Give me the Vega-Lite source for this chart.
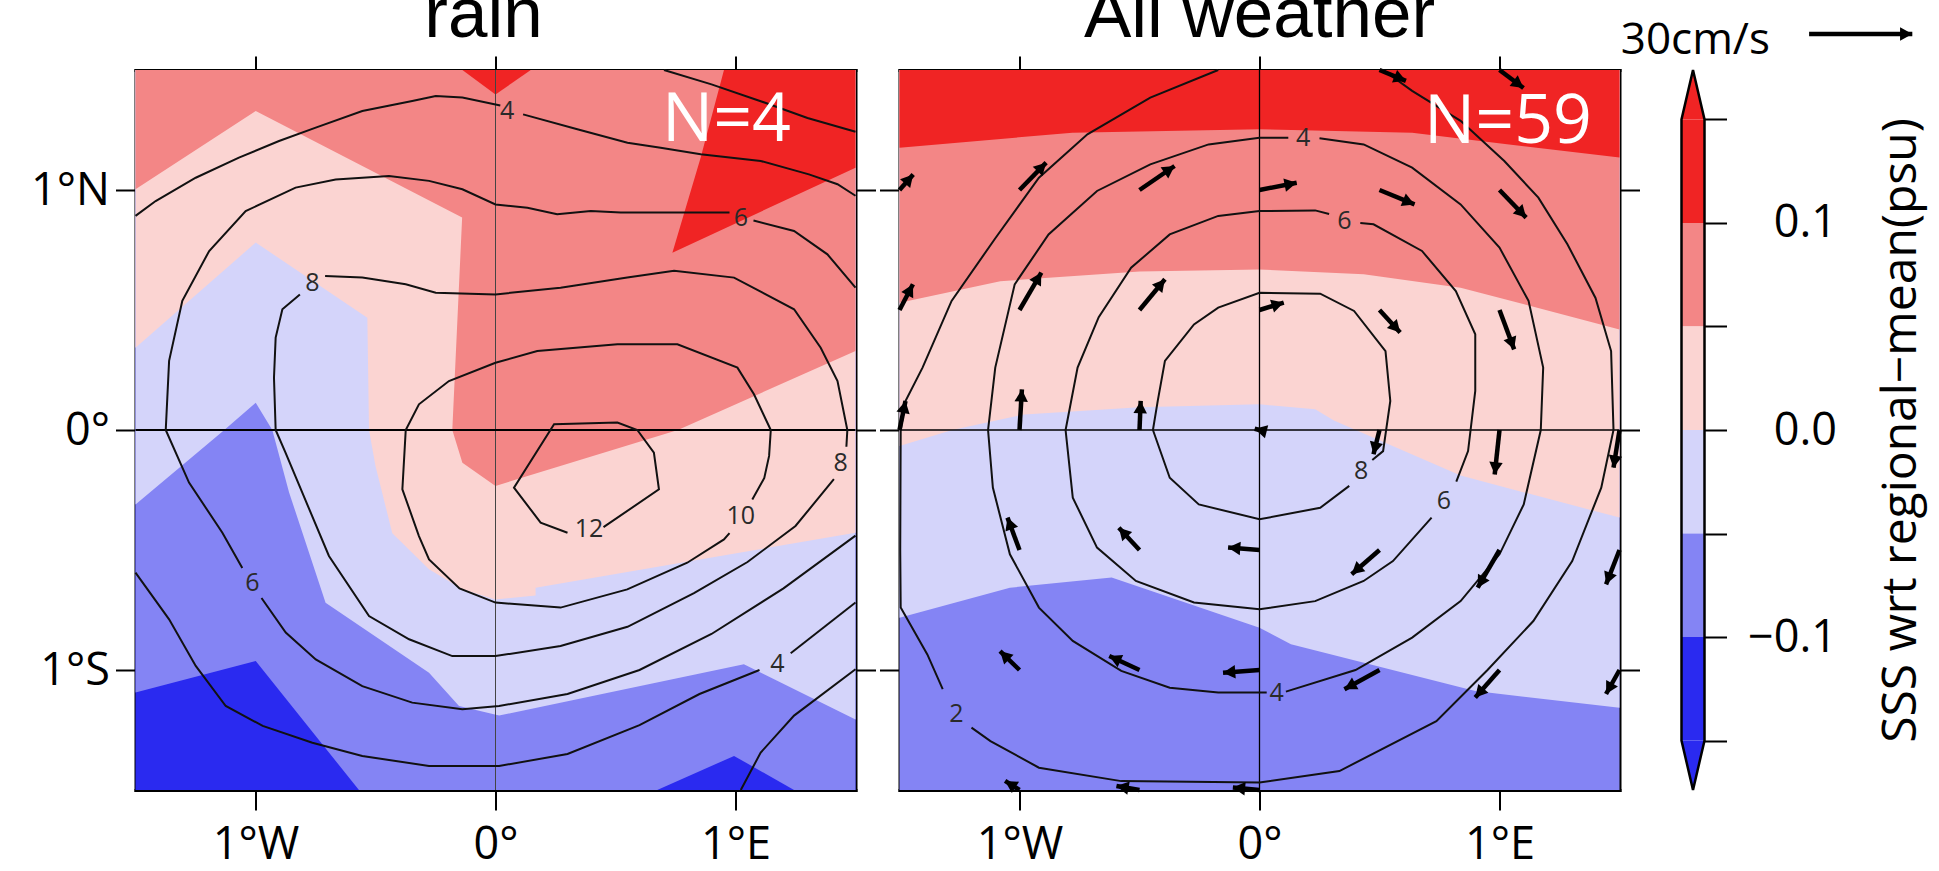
{
"$schema":"https://vega.github.io/schema/vega-lite/v6.json",
"usermeta":{"embedOptions":{"actions":false}},
"padding":{"left":30.5,"top":-21,"right":10,"bottom":12},
"bounds":"flush",
"spacing":44,
"datasets":{
"fl":[
{"k":0,"g":"a0","i":0,"x":-1.5,"y":-1.5},{"k":0,"g":"a0","i":1,"x":1.5,"y":-1.5},{"k":0,"g":"a0","i":2,"x":1.5,"y":1.5},{"k":0,"g":"a0","i":3,"x":-1.5,"y":1.5},
{"k":1,"g":"a1","i":0,"x":-1.5,"y":1.5},{"k":1,"g":"a1","i":1,"x":1.5,"y":1.5},{"k":1,"g":"a1","i":2,"x":1.5,"y":-1.5},{"k":1,"g":"a1","i":3,"x":1.244,"y":-1.5},{"k":1,"g":"a1","i":4,"x":0.994,"y":-1.358},{"k":1,"g":"a1","i":5,"x":0.674,"y":-1.5},{"k":1,"g":"a1","i":6,"x":-0.569,"y":-1.5},{"k":1,"g":"a1","i":7,"x":-0.999,"y":-0.963},{"k":1,"g":"a1","i":8,"x":-1.5,"y":-1.094},
{"k":2,"g":"a2","i":0,"x":-1.5,"y":1.5},{"k":2,"g":"a2","i":1,"x":1.5,"y":1.5},{"k":2,"g":"a2","i":2,"x":1.5,"y":-1.206},{"k":2,"g":"a2","i":3,"x":1.035,"y":-0.976},{"k":2,"g":"a2","i":4,"x":0.015,"y":-1.19},{"k":2,"g":"a2","i":5,"x":-0.152,"y":-1.15},{"k":2,"g":"a2","i":6,"x":-0.277,"y":-1.011},{"k":2,"g":"a2","i":7,"x":-0.708,"y":-0.72},{"k":2,"g":"a2","i":8,"x":-0.86,"y":-0.26},{"k":2,"g":"a2","i":9,"x":-0.93,"y":0.0},{"k":2,"g":"a2","i":10,"x":-0.999,"y":0.114},{"k":2,"g":"a2","i":11,"x":-1.13,"y":0.0},{"k":2,"g":"a2","i":12,"x":-1.5,"y":-0.31},
{"k":3,"g":"a3","i":0,"x":-1.5,"y":1.5},{"k":3,"g":"a3","i":1,"x":1.5,"y":1.5},{"k":3,"g":"a3","i":2,"x":1.5,"y":-0.428},{"k":3,"g":"a3","i":3,"x":0.167,"y":-0.657},{"k":3,"g":"a3","i":4,"x":0.167,"y":-0.69},{"k":3,"g":"a3","i":5,"x":0.0,"y":-0.706},{"k":3,"g":"a3","i":6,"x":-0.138,"y":-0.664},{"k":3,"g":"a3","i":7,"x":-0.277,"y":-0.58},{"k":3,"g":"a3","i":8,"x":-0.43,"y":-0.43},{"k":3,"g":"a3","i":9,"x":-0.5,"y":-0.15},{"k":3,"g":"a3","i":10,"x":-0.527,"y":0.0},{"k":3,"g":"a3","i":11,"x":-0.534,"y":0.468},{"k":3,"g":"a3","i":12,"x":-0.999,"y":0.781},{"k":3,"g":"a3","i":13,"x":-1.5,"y":0.343},
{"k":4,"g":"a4","i":0,"x":-1.5,"y":1.5},{"k":4,"g":"a4","i":1,"x":1.5,"y":1.5},{"k":4,"g":"a4","i":2,"x":1.5,"y":0.329},{"k":4,"g":"a4","i":3,"x":0.76,"y":0.0},{"k":4,"g":"a4","i":4,"x":0.0,"y":-0.233},{"k":4,"g":"a4","i":5,"x":-0.138,"y":-0.136},{"k":4,"g":"a4","i":6,"x":-0.18,"y":0.0},{"k":4,"g":"a4","i":7,"x":-0.139,"y":0.885},{"k":4,"g":"a4","i":8,"x":-0.999,"y":1.329},{"k":4,"g":"a4","i":9,"x":-1.5,"y":1.003},
{"k":5,"g":"a5","i":0,"x":-0.138,"y":1.5},{"k":5,"g":"a5","i":1,"x":0.147,"y":1.5},{"k":5,"g":"a5","i":2,"x":0.0,"y":1.398},
{"k":5,"g":"a6","i":0,"x":0.952,"y":1.5},{"k":5,"g":"a6","i":1,"x":1.5,"y":1.5},{"k":5,"g":"a6","i":2,"x":1.5,"y":1.093},{"k":5,"g":"a6","i":3,"x":0.737,"y":0.739},{"k":5,"g":"a6","i":4,"x":0.855,"y":1.135}
],
"fr":[
{"k":1,"g":"b1","i":0,"x":-1.5,"y":-1.5},{"k":1,"g":"b1","i":1,"x":1.5,"y":-1.5},{"k":1,"g":"b1","i":2,"x":1.5,"y":1.5},{"k":1,"g":"b1","i":3,"x":-1.5,"y":1.5},
{"k":2,"g":"b2","i":0,"x":-1.5,"y":-0.782},{"k":2,"g":"b2","i":1,"x":-1.04,"y":-0.657},{"k":2,"g":"b2","i":2,"x":-0.616,"y":-0.615},{"k":2,"g":"b2","i":3,"x":0.0,"y":-0.824},{"k":2,"g":"b2","i":4,"x":0.131,"y":-0.893},{"k":2,"g":"b2","i":5,"x":0.899,"y":-1.088},{"k":2,"g":"b2","i":6,"x":1.5,"y":-1.157},{"k":2,"g":"b2","i":7,"x":1.5,"y":1.5},{"k":2,"g":"b2","i":8,"x":-1.5,"y":1.5},
{"k":3,"g":"b3","i":0,"x":-1.5,"y":-0.067},{"k":3,"g":"b3","i":1,"x":-1.28,"y":0.0},{"k":3,"g":"b3","i":2,"x":-0.98,"y":0.065},{"k":3,"g":"b3","i":3,"x":-0.5,"y":0.095},{"k":3,"g":"b3","i":4,"x":0.0,"y":0.107},{"k":3,"g":"b3","i":5,"x":0.232,"y":0.086},{"k":3,"g":"b3","i":6,"x":0.31,"y":0.04},{"k":3,"g":"b3","i":7,"x":0.838,"y":-0.19},{"k":3,"g":"b3","i":8,"x":1.5,"y":-0.365},{"k":3,"g":"b3","i":9,"x":1.5,"y":1.5},{"k":3,"g":"b3","i":10,"x":-1.5,"y":1.5},
{"k":4,"g":"b4","i":0,"x":-1.5,"y":0.53},{"k":4,"g":"b4","i":1,"x":-1.08,"y":0.62},{"k":4,"g":"b4","i":2,"x":-0.5,"y":0.66},{"k":4,"g":"b4","i":3,"x":0.0,"y":0.669},{"k":4,"g":"b4","i":4,"x":0.434,"y":0.649},{"k":4,"g":"b4","i":5,"x":0.838,"y":0.593},{"k":4,"g":"b4","i":6,"x":1.5,"y":0.419},{"k":4,"g":"b4","i":7,"x":1.5,"y":1.5},{"k":4,"g":"b4","i":8,"x":-1.5,"y":1.5},
{"k":5,"g":"b5","i":0,"x":-1.5,"y":1.176},{"k":5,"g":"b5","i":1,"x":-0.78,"y":1.239},{"k":5,"g":"b5","i":2,"x":0.0,"y":1.253},{"k":5,"g":"b5","i":3,"x":0.636,"y":1.239},{"k":5,"g":"b5","i":4,"x":1.04,"y":1.19},{"k":5,"g":"b5","i":5,"x":1.5,"y":1.135},{"k":5,"g":"b5","i":6,"x":1.5,"y":1.5},{"k":5,"g":"b5","i":7,"x":-1.5,"y":1.5}
],
"cl":[
{"g":"c2a","i":0,"x":0.702,"y":1.5},{"g":"c2a","i":1,"x":0.9,"y":1.44},{"g":"c2a","i":2,"x":1.105,"y":1.37},{"g":"c2a","i":3,"x":1.3,"y":1.3},{"g":"c2a","i":4,"x":1.5,"y":1.243},
{"g":"c4a","i":0,"x":-1.5,"y":0.892},{"g":"c4a","i":1,"x":-1.416,"y":0.954},{"g":"c4a","i":2,"x":-1.249,"y":1.051},{"g":"c4a","i":3,"x":-1.069,"y":1.135},{"g":"c4a","i":4,"x":-0.902,"y":1.204},{"g":"c4a","i":5,"x":-0.749,"y":1.26},{"g":"c4a","i":6,"x":-0.555,"y":1.329},{"g":"c4a","i":7,"x":-0.347,"y":1.371},{"g":"c4a","i":8,"x":-0.249,"y":1.392},{"g":"c4a","i":9,"x":-0.138,"y":1.385},{"g":"c4a","i":10,"x":0.02,"y":1.352},
{"g":"c4b","i":0,"x":0.115,"y":1.315},{"g":"c4b","i":1,"x":0.341,"y":1.253},{"g":"c4b","i":2,"x":0.55,"y":1.197},{"g":"c4b","i":3,"x":0.688,"y":1.176},{"g":"c4b","i":4,"x":0.855,"y":1.149},{"g":"c4b","i":5,"x":1.105,"y":1.121},{"g":"c4b","i":6,"x":1.306,"y":1.065},{"g":"c4b","i":7,"x":1.425,"y":1.024},{"g":"c4b","i":8,"x":1.5,"y":0.976},
{"g":"c6a","i":0,"x":0.975,"y":0.906},{"g":"c6a","i":1,"x":0.522,"y":0.906},{"g":"c6a","i":2,"x":0.397,"y":0.912},{"g":"c6a","i":3,"x":0.257,"y":0.899},{"g":"c6a","i":4,"x":0.133,"y":0.926},{"g":"c6a","i":5,"x":0.0,"y":0.94},{"g":"c6a","i":6,"x":-0.138,"y":1.003},{"g":"c6a","i":7,"x":-0.277,"y":1.038},{"g":"c6a","i":8,"x":-0.444,"y":1.058},{"g":"c6a","i":9,"x":-0.666,"y":1.044},{"g":"c6a","i":10,"x":-0.833,"y":1.01},{"g":"c6a","i":11,"x":-1.041,"y":0.912},{"g":"c6a","i":12,"x":-1.193,"y":0.746},{"g":"c6a","i":13,"x":-1.305,"y":0.538},{"g":"c6a","i":14,"x":-1.36,"y":0.288},{"g":"c6a","i":15,"x":-1.374,"y":0.0},{"g":"c6a","i":16,"x":-1.277,"y":-0.219},{"g":"c6a","i":17,"x":-1.138,"y":-0.428},{"g":"c6a","i":18,"x":-1.055,"y":-0.575},
{"g":"c6b","i":0,"x":-0.975,"y":-0.7},{"g":"c6b","i":1,"x":-0.874,"y":-0.844},{"g":"c6b","i":2,"x":-0.749,"y":-0.956},{"g":"c6b","i":3,"x":-0.555,"y":-1.067},{"g":"c6b","i":4,"x":-0.347,"y":-1.136},{"g":"c6b","i":5,"x":-0.138,"y":-1.164},{"g":"c6b","i":6,"x":0.015,"y":-1.15},{"g":"c6b","i":7,"x":0.3,"y":-1.1},{"g":"c6b","i":8,"x":0.6,"y":-1.0},{"g":"c6b","i":9,"x":0.9,"y":-0.85},{"g":"c6b","i":10,"x":1.2,"y":-0.66},{"g":"c6b","i":11,"x":1.5,"y":-0.44},
{"g":"c6c","i":0,"x":1.075,"y":0.873},{"g":"c6c","i":1,"x":1.244,"y":0.829},{"g":"c6c","i":2,"x":1.383,"y":0.732},{"g":"c6c","i":3,"x":1.5,"y":0.593},
{"g":"c8a","i":0,"x":-0.71,"y":0.642},{"g":"c8a","i":1,"x":-0.555,"y":0.635},{"g":"c8a","i":2,"x":-0.374,"y":0.607},{"g":"c8a","i":3,"x":-0.249,"y":0.572},{"g":"c8a","i":4,"x":0.0,"y":0.565},{"g":"c8a","i":5,"x":0.271,"y":0.593},{"g":"c8a","i":6,"x":0.549,"y":0.635},{"g":"c8a","i":7,"x":0.744,"y":0.663},{"g":"c8a","i":8,"x":0.994,"y":0.635},{"g":"c8a","i":9,"x":1.244,"y":0.503},{"g":"c8a","i":10,"x":1.355,"y":0.343},{"g":"c8a","i":11,"x":1.425,"y":0.204},{"g":"c8a","i":12,"x":1.466,"y":0.0},{"g":"c8a","i":13,"x":1.462,"y":-0.07},
{"g":"c8b","i":0,"x":1.41,"y":-0.205},{"g":"c8b","i":1,"x":1.25,"y":-0.4},{"g":"c8b","i":2,"x":1.05,"y":-0.55},{"g":"c8b","i":3,"x":0.827,"y":-0.68},{"g":"c8b","i":4,"x":0.55,"y":-0.82},{"g":"c8b","i":5,"x":0.271,"y":-0.9},{"g":"c8b","i":6,"x":0.0,"y":-0.942},{"g":"c8b","i":7,"x":-0.18,"y":-0.942},{"g":"c8b","i":8,"x":-0.36,"y":-0.872},{"g":"c8b","i":9,"x":-0.527,"y":-0.775},{"g":"c8b","i":10,"x":-0.694,"y":-0.525},{"g":"c8b","i":11,"x":-0.805,"y":-0.261},{"g":"c8b","i":12,"x":-0.875,"y":-0.094},{"g":"c8b","i":13,"x":-0.916,"y":0.0},{"g":"c8b","i":14,"x":-0.923,"y":0.218},{"g":"c8b","i":15,"x":-0.916,"y":0.385},{"g":"c8b","i":16,"x":-0.888,"y":0.503},{"g":"c8b","i":17,"x":-0.815,"y":0.565},
{"g":"c10","i":0,"x":1.07,"y":-0.29},{"g":"c10","i":1,"x":1.12,"y":-0.2},{"g":"c10","i":2,"x":1.14,"y":-0.108},{"g":"c10","i":3,"x":1.147,"y":0.0},{"g":"c10","i":4,"x":1.077,"y":0.149},{"g":"c10","i":5,"x":1.008,"y":0.26},{"g":"c10","i":6,"x":0.758,"y":0.357},{"g":"c10","i":7,"x":0.508,"y":0.357},{"g":"c10","i":8,"x":0.174,"y":0.329},{"g":"c10","i":9,"x":0.0,"y":0.28},{"g":"c10","i":10,"x":-0.194,"y":0.204},{"g":"c10","i":11,"x":-0.319,"y":0.107},{"g":"c10","i":12,"x":-0.374,"y":0.0},{"g":"c10","i":13,"x":-0.388,"y":-0.247},{"g":"c10","i":14,"x":-0.319,"y":-0.442},{"g":"c10","i":15,"x":-0.277,"y":-0.539},{"g":"c10","i":16,"x":-0.15,"y":-0.66},{"g":"c10","i":17,"x":0.0,"y":-0.719},{"g":"c10","i":18,"x":0.271,"y":-0.74},{"g":"c10","i":19,"x":0.549,"y":-0.664},{"g":"c10","i":20,"x":0.799,"y":-0.553},{"g":"c10","i":21,"x":0.952,"y":-0.456},{"g":"c10","i":22,"x":0.975,"y":-0.43},
{"g":"c12","i":0,"x":0.45,"y":-0.405},{"g":"c12","i":1,"x":0.681,"y":-0.247},{"g":"c12","i":2,"x":0.66,"y":-0.094},{"g":"c12","i":3,"x":0.591,"y":0.0},{"g":"c12","i":4,"x":0.508,"y":0.031},{"g":"c12","i":5,"x":0.244,"y":0.024},{"g":"c12","i":6,"x":0.077,"y":-0.24},{"g":"c12","i":7,"x":0.188,"y":-0.386},{"g":"c12","i":8,"x":0.3,"y":-0.428},
{"g":"c4c","i":0,"x":-1.5,"y":-0.594},{"g":"c4c","i":1,"x":-1.36,"y":-0.789},{"g":"c4c","i":2,"x":-1.249,"y":-0.983},{"g":"c4c","i":3,"x":-1.124,"y":-1.15},{"g":"c4c","i":4,"x":-0.97,"y":-1.233},{"g":"c4c","i":5,"x":-0.763,"y":-1.303},{"g":"c4c","i":6,"x":-0.555,"y":-1.358},{"g":"c4c","i":7,"x":-0.277,"y":-1.4},{"g":"c4c","i":8,"x":0.015,"y":-1.4},{"g":"c4c","i":9,"x":0.3,"y":-1.35},{"g":"c4c","i":10,"x":0.6,"y":-1.23},{"g":"c4c","i":11,"x":0.85,"y":-1.1},{"g":"c4c","i":12,"x":1.1,"y":-1.0},
{"g":"c4d","i":0,"x":1.23,"y":-0.93},{"g":"c4d","i":1,"x":1.5,"y":-0.719},
{"g":"c2b","i":0,"x":1.5,"y":-0.997},{"g":"c2b","i":1,"x":1.244,"y":-1.19},{"g":"c2b","i":2,"x":1.105,"y":-1.344},{"g":"c2b","i":3,"x":1.022,"y":-1.5}
],
"cr":[
{"g":"r8","i":0,"x":0.374,"y":-0.233},{"g":"r8","i":1,"x":0.253,"y":-0.324},{"g":"r8","i":2,"x":0.0,"y":-0.372},{"g":"r8","i":3,"x":-0.253,"y":-0.31},{"g":"r8","i":4,"x":-0.374,"y":-0.199},{"g":"r8","i":5,"x":-0.444,"y":0.0},{"g":"r8","i":6,"x":-0.424,"y":0.121},{"g":"r8","i":7,"x":-0.394,"y":0.288},{"g":"r8","i":8,"x":-0.273,"y":0.44},{"g":"r8","i":9,"x":-0.172,"y":0.51},{"g":"r8","i":10,"x":0.0,"y":0.572},{"g":"r8","i":11,"x":0.253,"y":0.568},{"g":"r8","i":12,"x":0.394,"y":0.496},{"g":"r8","i":13,"x":0.525,"y":0.329},{"g":"r8","i":14,"x":0.545,"y":0.121},{"g":"r8","i":15,"x":0.515,"y":-0.088},{"g":"r8","i":16,"x":0.47,"y":-0.125},
{"g":"r6a","i":0,"x":0.42,"y":0.862},{"g":"r6a","i":1,"x":0.475,"y":0.857},{"g":"r6a","i":2,"x":0.677,"y":0.746},{"g":"r6a","i":3,"x":0.818,"y":0.579},{"g":"r6a","i":4,"x":0.899,"y":0.399},{"g":"r6a","i":5,"x":0.899,"y":0.163},{"g":"r6a","i":6,"x":0.869,"y":-0.088},{"g":"r6a","i":7,"x":0.82,"y":-0.215},
{"g":"r6b","i":0,"x":0.717,"y":-0.365},{"g":"r6b","i":1,"x":0.556,"y":-0.546},{"g":"r6b","i":2,"x":0.434,"y":-0.629},{"g":"r6b","i":3,"x":0.232,"y":-0.713},{"g":"r6b","i":4,"x":0.0,"y":-0.747},{"g":"r6b","i":5,"x":-0.273,"y":-0.719},{"g":"r6b","i":6,"x":-0.515,"y":-0.629},{"g":"r6b","i":7,"x":-0.677,"y":-0.49},{"g":"r6b","i":8,"x":-0.778,"y":-0.282},{"g":"r6b","i":9,"x":-0.808,"y":0.0},{"g":"r6b","i":10,"x":-0.758,"y":0.26},{"g":"r6b","i":11,"x":-0.67,"y":0.47},{"g":"r6b","i":12,"x":-0.535,"y":0.676},{"g":"r6b","i":13,"x":-0.374,"y":0.815},{"g":"r6b","i":14,"x":-0.172,"y":0.892},{"g":"r6b","i":15,"x":0.0,"y":0.912},{"g":"r6b","i":16,"x":0.232,"y":0.915},{"g":"r6b","i":17,"x":0.29,"y":0.9},
{"g":"r4a","i":0,"x":0.25,"y":1.216},{"g":"r4a","i":1,"x":0.434,"y":1.19},{"g":"r4a","i":2,"x":0.636,"y":1.093},{"g":"r4a","i":3,"x":0.838,"y":0.94},{"g":"r4a","i":4,"x":1.0,"y":0.76},{"g":"r4a","i":5,"x":1.121,"y":0.538},{"g":"r4a","i":6,"x":1.182,"y":0.26},{"g":"r4a","i":7,"x":1.172,"y":0.0},{"g":"r4a","i":8,"x":1.101,"y":-0.31},{"g":"r4a","i":9,"x":1.0,"y":-0.518},{"g":"r4a","i":10,"x":0.838,"y":-0.713},{"g":"r4a","i":11,"x":0.636,"y":-0.865},{"g":"r4a","i":12,"x":0.4,"y":-1.0},{"g":"r4a","i":13,"x":0.11,"y":-1.09},
{"g":"r4b","i":0,"x":0.03,"y":-1.094},{"g":"r4b","i":1,"x":-0.172,"y":-1.094},{"g":"r4b","i":2,"x":-0.374,"y":-1.074},{"g":"r4b","i":3,"x":-0.576,"y":-1.004},{"g":"r4b","i":4,"x":-0.778,"y":-0.879},{"g":"r4b","i":5,"x":-0.919,"y":-0.74},{"g":"r4b","i":6,"x":-1.04,"y":-0.518},{"g":"r4b","i":7,"x":-1.111,"y":-0.24},{"g":"r4b","i":8,"x":-1.131,"y":0.0},{"g":"r4b","i":9,"x":-1.101,"y":0.26},{"g":"r4b","i":10,"x":-1.02,"y":0.607},{"g":"r4b","i":11,"x":-0.879,"y":0.815},{"g":"r4b","i":12,"x":-0.677,"y":0.996},{"g":"r4b","i":13,"x":-0.455,"y":1.107},{"g":"r4b","i":14,"x":-0.212,"y":1.19},{"g":"r4b","i":15,"x":0.0,"y":1.218},{"g":"r4b","i":16,"x":0.12,"y":1.218},
{"g":"r2a","i":0,"x":-1.2,"y":-1.24},{"g":"r2a","i":1,"x":-1.121,"y":-1.296},{"g":"r2a","i":2,"x":-0.919,"y":-1.407},{"g":"r2a","i":3,"x":-0.576,"y":-1.463},{"g":"r2a","i":4,"x":0.0,"y":-1.469},{"g":"r2a","i":5,"x":0.333,"y":-1.421},{"g":"r2a","i":6,"x":0.737,"y":-1.213},{"g":"r2a","i":7,"x":0.95,"y":-1.0},{"g":"r2a","i":8,"x":1.141,"y":-0.796},{"g":"r2a","i":9,"x":1.303,"y":-0.546},{"g":"r2a","i":10,"x":1.424,"y":-0.24},{"g":"r2a","i":11,"x":1.475,"y":0.0},{"g":"r2a","i":12,"x":1.465,"y":0.329},{"g":"r2a","i":13,"x":1.4,"y":0.55},{"g":"r2a","i":14,"x":1.283,"y":0.774},{"g":"r2a","i":15,"x":1.162,"y":0.968},{"g":"r2a","i":16,"x":1.02,"y":1.121},{"g":"r2a","i":17,"x":0.838,"y":1.288},{"g":"r2a","i":18,"x":0.636,"y":1.413},{"g":"r2a","i":19,"x":0.515,"y":1.5},
{"g":"r2b","i":0,"x":-0.172,"y":1.5},{"g":"r2b","i":1,"x":-0.455,"y":1.385},{"g":"r2b","i":2,"x":-0.717,"y":1.232},{"g":"r2b","i":3,"x":-0.919,"y":1.051},{"g":"r2b","i":4,"x":-1.1,"y":0.8},{"g":"r2b","i":5,"x":-1.283,"y":0.538},{"g":"r2b","i":6,"x":-1.404,"y":0.26},{"g":"r2b","i":7,"x":-1.475,"y":0.121},{"g":"r2b","i":8,"x":-1.495,"y":0.0},{"g":"r2b","i":9,"x":-1.497,"y":-0.5},{"g":"r2b","i":10,"x":-1.495,"y":-0.74},{"g":"r2b","i":11,"x":-1.384,"y":-0.935},{"g":"r2b","i":12,"x":-1.32,"y":-1.08}
],
"ll":[
{"t":"4","x":0.049,"y":1.329},{"t":"6","x":1.022,"y":0.885},{"t":"8","x":-0.763,"y":0.614},{"t":"8","x":1.438,"y":-0.136},{"t":"10","x":1.022,"y":-0.358},{"t":"12","x":0.39,"y":-0.414},{"t":"6","x":-1.013,"y":-0.636},{"t":"4","x":1.175,"y":-0.976}
],
"lr":[
{"t":"4","x":0.182,"y":1.218},{"t":"6","x":0.354,"y":0.871},{"t":"8","x":0.424,"y":-0.171},{"t":"6","x":0.768,"y":-0.296},{"t":"4","x":0.071,"y":-1.094},{"t":"2","x":-1.263,"y":-1.185}
],
"ar":[
{"x":0.5,"y":1.5,"x2":0.61,"y2":1.455},{"x":1.0,"y":1.5,"x2":1.1,"y2":1.425},
{"x":-1.5,"y":1.0,"x2":-1.443,"y2":1.065},{"x":-1.0,"y":1.0,"x2":-0.889,"y2":1.114},{"x":-0.5,"y":1.0,"x2":-0.354,"y2":1.1},{"x":0.0,"y":1.0,"x2":0.155,"y2":1.03},{"x":0.5,"y":1.0,"x2":0.646,"y2":0.94},{"x":1.0,"y":1.0,"x2":1.111,"y2":0.885},
{"x":-1.5,"y":0.5,"x2":-1.444,"y2":0.607},{"x":-1.0,"y":0.5,"x2":-0.909,"y2":0.656},{"x":-0.5,"y":0.5,"x2":-0.394,"y2":0.628},{"x":0.0,"y":0.5,"x2":0.101,"y2":0.531},{"x":0.5,"y":0.5,"x2":0.586,"y2":0.406},{"x":1.0,"y":0.5,"x2":1.061,"y2":0.336},
{"x":-1.5,"y":0.0,"x2":-1.475,"y2":0.121},{"x":-1.0,"y":0.0,"x2":-0.99,"y2":0.169},{"x":-0.5,"y":0.0,"x2":-0.495,"y2":0.121},{"x":0.0,"y":0.0,"x2":-0.02,"y2":0.005},{"x":0.5,"y":0.0,"x2":0.475,"y2":-0.101},{"x":1.0,"y":0.0,"x2":0.98,"y2":-0.185},{"x":1.5,"y":0.0,"x2":1.475,"y2":-0.157},
{"x":-1.0,"y":-0.5,"x2":-1.05,"y2":-0.365},{"x":-0.5,"y":-0.5,"x2":-0.586,"y2":-0.407},{"x":0.0,"y":-0.5,"x2":-0.131,"y2":-0.49},{"x":0.5,"y":-0.5,"x2":0.384,"y2":-0.601},{"x":1.0,"y":-0.5,"x2":0.909,"y2":-0.657},{"x":1.5,"y":-0.5,"x2":1.444,"y2":-0.643},
{"x":-1.0,"y":-1.0,"x2":-1.081,"y2":-0.921},{"x":-0.5,"y":-1.0,"x2":-0.626,"y2":-0.942},{"x":0.0,"y":-1.0,"x2":-0.152,"y2":-1.011},{"x":0.5,"y":-1.0,"x2":0.354,"y2":-1.08},{"x":1.0,"y":-1.0,"x2":0.899,"y2":-1.115},{"x":1.5,"y":-1.0,"x2":1.444,"y2":-1.1},
{"x":-1.0,"y":-1.5,"x2":-1.06,"y2":-1.462},{"x":-0.5,"y":-1.5,"x2":-0.596,"y2":-1.483},{"x":0.0,"y":-1.5,"x2":-0.111,"y2":-1.49},
{"x":2.29,"y":1.65,"x2":2.72,"y2":1.65}
],
"cb":[
{"lo":0.1,"hi":0.15,"k":5},{"lo":0.05,"hi":0.1,"k":4},{"lo":0.0,"hi":0.05,"k":3},{"lo":-0.05,"hi":0.0,"k":2},{"lo":-0.1,"hi":-0.05,"k":1},{"lo":-0.15,"hi":-0.1,"k":0}
],
"cbt":[
{"g":"t","k":5,"i":0,"x":0,"y":0.15},{"g":"t","k":5,"i":1,"x":1,"y":0.15},{"g":"t","k":5,"i":2,"x":0.5,"y":0.1739},
{"g":"b","k":0,"i":0,"x":0,"y":-0.15},{"g":"b","k":0,"i":1,"x":1,"y":-0.15},{"g":"b","k":0,"i":2,"x":0.5,"y":-0.1739}
],
"cbo":[
{"i":0,"x":0,"y":-0.15},{"i":1,"x":0,"y":0.15},{"i":2,"x":0.5,"y":0.1739},{"i":3,"x":1,"y":0.15},{"i":4,"x":1,"y":-0.15},{"i":5,"x":0.5,"y":-0.1739}
]
},
"hconcat":[
{
"width":720,"height":720,
"layer":[
{"data":{"name":"fl"},
"encoding":{
"x":{"field":"x","type":"quantitative","scale":{"domain":[-1.5,1.5],"nice":false,"zero":false},"axis":{"orient":"bottom","values":[-1,0,1],"labelExpr":"datum.value<0?'1°W':(datum.value>0?'1°E':'0°')","tickSize":20,"labelPadding":12,"title":null}},
"y":{"field":"y","type":"quantitative","scale":{"domain":[-1.5,1.5],"nice":false,"zero":false},"axis":{"orient":"left","values":[-1,0,1],"labelExpr":"datum.value<0?'1°S':(datum.value>0?'1°N':'0°')","tickSize":20,"labelPadding":6,"title":null}},
"order":{"field":"i","type":"quantitative"},
"detail":{"field":"g","type":"nominal"}},
"layer":[
{"transform":[{"filter":"datum.k==0"}],"mark":{"type":"line","interpolate":"linear-closed","fill":"#2a2af0","strokeOpacity":0}},
{"transform":[{"filter":"datum.k==1"}],"mark":{"type":"line","interpolate":"linear-closed","fill":"#8484f4","strokeOpacity":0}},
{"transform":[{"filter":"datum.k==2"}],"mark":{"type":"line","interpolate":"linear-closed","fill":"#d4d4fa","strokeOpacity":0}},
{"transform":[{"filter":"datum.k==3"}],"mark":{"type":"line","interpolate":"linear-closed","fill":"#fbd4d2","strokeOpacity":0}},
{"transform":[{"filter":"datum.k==4"}],"mark":{"type":"line","interpolate":"linear-closed","fill":"#f38686","strokeOpacity":0}},
{"transform":[{"filter":"datum.k==5"}],"mark":{"type":"line","interpolate":"linear-closed","fill":"#f02424","strokeOpacity":0}}
]},
{"data":{"values":[{}]},"mark":{"type":"rule","color":"#444444","strokeWidth":1},"encoding":{"x":{"datum":0,"type":"quantitative","scale":{"domain":[-1.5,1.5],"nice":false,"zero":false},"axis":null}}},
{"data":{"values":[{}]},"mark":{"type":"rule","color":"black","strokeWidth":2},"encoding":{"y":{"datum":0,"type":"quantitative","scale":{"domain":[-1.5,1.5],"nice":false,"zero":false},"axis":null}}},
{"data":{"name":"cl"},"mark":{"type":"line","color":"#111111","strokeWidth":2},
"encoding":{
"x":{"field":"x","type":"quantitative","scale":{"domain":[-1.5,1.5],"nice":false,"zero":false},"axis":{"orient":"top","values":[-1,0,1],"labels":false,"tickSize":14,"title":null}},
"y":{"field":"y","type":"quantitative","scale":{"domain":[-1.5,1.5],"nice":false,"zero":false},"axis":{"orient":"right","values":[-1,0,1],"labels":false,"tickSize":20,"title":null}},
"order":{"field":"i","type":"quantitative"},
"detail":{"field":"g","type":"nominal"}}},
{"data":{"name":"ll"},"mark":{"type":"text","fontSize":25,"color":"#2a2a2a","font":"Open Sans"},
"encoding":{"x":{"field":"x","type":"quantitative","scale":{"domain":[-1.5,1.5],"nice":false,"zero":false},"axis":null},"y":{"field":"y","type":"quantitative","scale":{"domain":[-1.5,1.5],"nice":false,"zero":false},"axis":null},"text":{"field":"t"}}},
{"data":{"values":[{"t":"N=4","x":1.231,"y":1.204}]},"mark":{"type":"text","fontSize":68,"color":"white","align":"right","baseline":"alphabetic","font":"Open Sans"},
"encoding":{"x":{"field":"x","type":"quantitative","scale":{"domain":[-1.5,1.5],"nice":false,"zero":false},"axis":null},"y":{"field":"y","type":"quantitative","scale":{"domain":[-1.5,1.5],"nice":false,"zero":false},"axis":null},"text":{"field":"t"}}},
{"data":{"values":[{"t":"rain","x":-0.05,"y":1.6375}]},"mark":{"type":"text","fontSize":71,"color":"black","align":"center","baseline":"alphabetic","font":"Liberation Sans"},
"encoding":{"x":{"field":"x","type":"quantitative","scale":{"domain":[-1.5,1.5],"nice":false,"zero":false},"axis":null},"y":{"field":"y","type":"quantitative","scale":{"domain":[-1.5,1.5],"nice":false,"zero":false},"axis":null},"text":{"field":"t"}}}
],
"resolve":{"axis":{"x":"independent","y":"independent"}}
},
{
"width":720,"height":720,
"layer":[
{"data":{"name":"fr"},
"encoding":{
"x":{"field":"x","type":"quantitative","scale":{"domain":[-1.5,1.5],"nice":false,"zero":false},"axis":{"orient":"bottom","values":[-1,0,1],"labelExpr":"datum.value<0?'1°W':(datum.value>0?'1°E':'0°')","tickSize":20,"labelPadding":12,"title":null}},
"y":{"field":"y","type":"quantitative","scale":{"domain":[-1.5,1.5],"nice":false,"zero":false},"axis":{"orient":"left","values":[-1,0,1],"labels":false,"tickSize":20,"title":null}},
"order":{"field":"i","type":"quantitative"},
"detail":{"field":"g","type":"nominal"}},
"layer":[
{"transform":[{"filter":"datum.k==1"}],"mark":{"type":"line","interpolate":"linear-closed","fill":"#8484f4","strokeOpacity":0}},
{"transform":[{"filter":"datum.k==2"}],"mark":{"type":"line","interpolate":"linear-closed","fill":"#d4d4fa","strokeOpacity":0}},
{"transform":[{"filter":"datum.k==3"}],"mark":{"type":"line","interpolate":"linear-closed","fill":"#fbd4d2","strokeOpacity":0}},
{"transform":[{"filter":"datum.k==4"}],"mark":{"type":"line","interpolate":"linear-closed","fill":"#f38686","strokeOpacity":0}},
{"transform":[{"filter":"datum.k==5"}],"mark":{"type":"line","interpolate":"linear-closed","fill":"#f02424","strokeOpacity":0}}
]},
{"data":{"values":[{}]},"mark":{"type":"rule","color":"black","strokeWidth":1.3},"encoding":{"x":{"datum":0,"type":"quantitative","scale":{"domain":[-1.5,1.5],"nice":false,"zero":false},"axis":null}}},
{"data":{"values":[{}]},"mark":{"type":"rule","color":"black","strokeWidth":1.6},"encoding":{"y":{"datum":0,"type":"quantitative","scale":{"domain":[-1.5,1.5],"nice":false,"zero":false},"axis":null}}},
{"data":{"name":"cr"},"mark":{"type":"line","color":"#111111","strokeWidth":2},
"encoding":{
"x":{"field":"x","type":"quantitative","scale":{"domain":[-1.5,1.5],"nice":false,"zero":false},"axis":{"orient":"top","values":[-1,0,1],"labels":false,"tickSize":14,"title":null}},
"y":{"field":"y","type":"quantitative","scale":{"domain":[-1.5,1.5],"nice":false,"zero":false},"axis":{"orient":"right","values":[-1,0,1],"labels":false,"tickSize":20,"title":null}},
"order":{"field":"i","type":"quantitative"},
"detail":{"field":"g","type":"nominal"}}},
{"data":{"name":"lr"},"mark":{"type":"text","fontSize":25,"color":"#2a2a2a","font":"Open Sans"},
"encoding":{"x":{"field":"x","type":"quantitative","scale":{"domain":[-1.5,1.5],"nice":false,"zero":false},"axis":null},"y":{"field":"y","type":"quantitative","scale":{"domain":[-1.5,1.5],"nice":false,"zero":false},"axis":null},"text":{"field":"t"}}},
{"data":{"name":"ar"},"mark":{"type":"rule","color":"black","strokeWidth":4.5},
"encoding":{"x":{"field":"x","type":"quantitative","scale":{"domain":[-1.5,1.5],"nice":false,"zero":false},"axis":null},"y":{"field":"y","type":"quantitative","scale":{"domain":[-1.5,1.5],"nice":false,"zero":false},"axis":null},"x2":{"field":"x2"},"y2":{"field":"y2"}}},
{"data":{"name":"ar"},"transform":[{"calculate":"-atan2(datum.y2-datum.y, datum.x2-datum.x)*180/PI","as":"a"}],
"mark":{"type":"point","shape":"M0,0L-1,-0.55L-1,0.55Z","filled":true,"color":"black","opacity":1,"size":600,"strokeWidth":0},
"encoding":{"x":{"field":"x2","type":"quantitative","scale":{"domain":[-1.5,1.5],"nice":false,"zero":false},"axis":null},"y":{"field":"y2","type":"quantitative","scale":{"domain":[-1.5,1.5],"nice":false,"zero":false},"axis":null},"angle":{"field":"a","type":"quantitative","scale":null}}},
{"data":{"values":[{"t":"N=59","x":1.385,"y":1.196}]},"mark":{"type":"text","fontSize":68,"color":"white","align":"right","baseline":"alphabetic","font":"Open Sans"},
"encoding":{"x":{"field":"x","type":"quantitative","scale":{"domain":[-1.5,1.5],"nice":false,"zero":false},"axis":null},"y":{"field":"y","type":"quantitative","scale":{"domain":[-1.5,1.5],"nice":false,"zero":false},"axis":null},"text":{"field":"t"}}},
{"data":{"values":[{"t":"All weather","x":0.0,"y":1.6375}]},"mark":{"type":"text","fontSize":71,"color":"black","align":"center","baseline":"alphabetic","font":"Liberation Sans"},
"encoding":{"x":{"field":"x","type":"quantitative","scale":{"domain":[-1.5,1.5],"nice":false,"zero":false},"axis":null},"y":{"field":"y","type":"quantitative","scale":{"domain":[-1.5,1.5],"nice":false,"zero":false},"axis":null},"text":{"field":"t"}}},
{"data":{"values":[{"t":"30cm/s","x":2.127,"y":1.567}]},"mark":{"type":"text","fontSize":44,"color":"black","align":"right","baseline":"alphabetic","font":"Open Sans"},
"encoding":{"x":{"field":"x","type":"quantitative","scale":{"domain":[-1.5,1.5],"nice":false,"zero":false},"axis":null},"y":{"field":"y","type":"quantitative","scale":{"domain":[-1.5,1.5],"nice":false,"zero":false},"axis":null},"text":{"field":"t"}}}
],
"resolve":{"axis":{"x":"independent","y":"independent"}}
},
{
"width":41,"height":720,
"layer":[
{"data":{"name":"cb"},"mark":{"type":"rect"},
"encoding":{
"x":{"datum":0,"type":"quantitative","scale":{"domain":[-0.7826,1],"nice":false,"zero":false},"axis":null},
"x2":{"datum":1},
"y":{"field":"lo","type":"quantitative","scale":{"domain":[-0.1739,0.1739],"nice":false,"zero":false},
"axis":{"orient":"right","values":[-0.15,-0.1,-0.05,0,0.05,0.1,0.15],"labelExpr":"abs(datum.value-0.1)<0.000001?'0.1':(abs(datum.value)<0.000001?'0.0':(abs(datum.value+0.1)<0.000001?'\u22120.1':''))","tickSize":22,"domain":false,"labelAlign":"right","labelPadding":110,"title":"SSS wrt regional\u2212mean(psu)","titleFont":"Open Sans","titleFontSize":48,"titleFontWeight":"normal","titleColor":"black","titleAngle":270,"titleBaseline":"top","titlePadding":41}},
"y2":{"field":"hi"},
"fill":{"field":"k","type":"ordinal","scale":{"domain":[0,1,2,3,4,5],"range":["#2a2af0","#8484f4","#d4d4fa","#fbd4d2","#f38686","#f02424"]},"legend":null}}},
{"data":{"name":"cbt"},"mark":{"type":"line","interpolate":"linear-closed","strokeOpacity":0},
"encoding":{
"x":{"field":"x","type":"quantitative","scale":{"domain":[-0.7826,1],"nice":false,"zero":false},"axis":null},
"y":{"field":"y","type":"quantitative","scale":{"domain":[-0.1739,0.1739],"nice":false,"zero":false},"axis":null},
"order":{"field":"i","type":"quantitative"},
"detail":{"field":"g","type":"nominal"},
"fill":{"field":"k","type":"ordinal","legend":null}}},
{"data":{"name":"cbo"},"mark":{"type":"line","interpolate":"linear-closed","color":"black","strokeWidth":2.5},
"encoding":{
"x":{"field":"x","type":"quantitative","scale":{"domain":[-0.7826,1],"nice":false,"zero":false},"axis":null},
"y":{"field":"y","type":"quantitative","scale":{"domain":[-0.1739,0.1739],"nice":false,"zero":false},"axis":null},
"order":{"field":"i","type":"quantitative"}}}
],
"resolve":{"axis":{"x":"independent","y":"independent"}}
}
],
"config":{
"view":{"stroke":null},
"font":"Open Sans",
"axis":{"domainColor":"black","domainWidth":3,"domainCap":"square","tickColor":"black","tickWidth":2,"grid":false,"labelFont":"Open Sans","labelFontSize":45,"labelColor":"black","zindex":1,"labelFlush":false,"labelOverlap":false}
}
}
